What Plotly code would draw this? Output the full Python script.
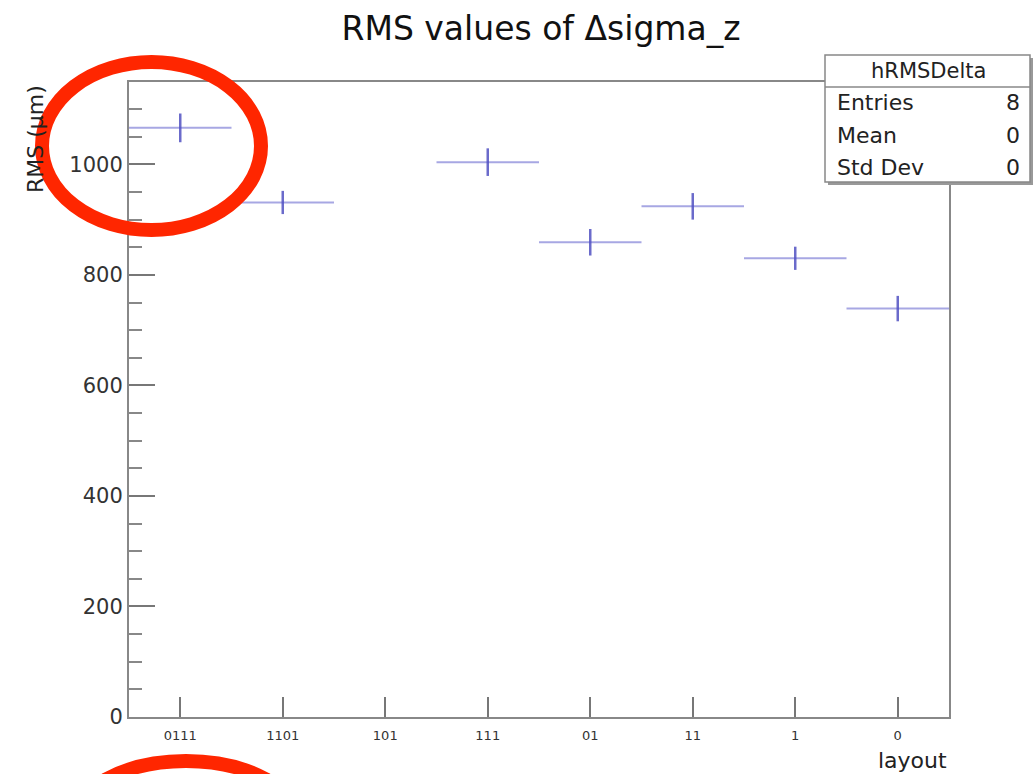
import plotly.graph_objects as go

# ---- data ----
layouts = ["0111", "1101", "101", "111", "01", "11", "1", "0"]
rms_values = [1066, 931, None, 1004, 859, 924, 830, 739]
rms_errors = [26, 21, None, 25, 24, 24, 21, 23]
half_bin = [0.5] * len(layouts)
stats_labels = ["Entries", "Mean", "Std Dev"]
stats_values = ["8", "0", "0"]

W, H = 1036, 774
L, R, T, B = 129, 949, 82, 717   # plot area in pixels


def px(x):
    return (x - L) / (R - L)


def py(y):
    return (B - y) / (B - T)


FONT = "DejaVu Sans, Liberation Sans, Arial, sans-serif"
xs = list(range(len(layouts)))

fig = go.Figure()
fig.add_trace(go.Scatter(
    x=xs, y=rms_values,
    mode="markers",
    marker=dict(size=1, color="rgba(0,0,0,0)"),
    error_x=dict(type="data", array=half_bin, width=0, thickness=2,
                 color="rgba(80,80,200,0.5)"),
    error_y=dict(type="data", array=rms_errors, width=0, thickness=2.5,
                 color="rgba(70,70,190,0.8)"),
    showlegend=False, hoverinfo="skip",
))

shapes = []
# stats box shadow + box
shapes.append(dict(type="rect", xref="paper", yref="paper",
                   x0=px(828), x1=px(1033), y0=py(185), y1=py(58),
                   line=dict(width=0), fillcolor="#999999", layer="above"))
shapes.append(dict(type="rect", xref="paper", yref="paper",
                   x0=px(825), x1=px(1030), y0=py(182), y1=py(55),
                   line=dict(width=1.5, color="#888888"), fillcolor="white",
                   layer="above"))
shapes.append(dict(type="line", xref="paper", yref="paper",
                   x0=px(825), x1=px(1030), y0=py(87), y1=py(87),
                   line=dict(width=1.5, color="#888888"), layer="above"))
# red hand-drawn circles
shapes.append(dict(type="circle", xref="paper", yref="paper",
                   x0=px(42), x1=px(261), y0=py(230), y1=py(62),
                   line=dict(width=14, color="#ff2600"), layer="above"))
shapes.append(dict(type="circle", xref="paper", yref="paper",
                   x0=px(73), x1=px(299), y0=py(887), y1=py(761),
                   line=dict(width=14, color="#ff2600"), layer="above"))

annotations = [
    dict(text="hRMSDelta", xref="paper", yref="paper", x=px(928), y=py(71),
         xanchor="center", yanchor="middle", showarrow=False,
         font=dict(family=FONT, size=21, color="#222222")),
    dict(text="RMS (μm)", xref="paper", yref="paper", x=px(35), y=py(83),
         xanchor="center", yanchor="top", textangle=-90, showarrow=False,
         font=dict(family=FONT, size=22, color="#222222")),
    dict(text="layout", xref="paper", yref="paper", x=1.0, y=py(760),
         xanchor="right", yanchor="middle", showarrow=False,
         font=dict(family=FONT, size=22, color="#222222")),
]
row_y = [102, 135, 167]
for lab, val, yy in zip(stats_labels, stats_values, row_y):
    annotations.append(dict(text=lab, xref="paper", yref="paper", x=px(835), y=py(yy),
                            xanchor="left", yanchor="middle", showarrow=False,
                            font=dict(family=FONT, size=22, color="#222222")))
    annotations.append(dict(text=val, xref="paper", yref="paper", x=px(1022), y=py(yy),
                            xanchor="right", yanchor="middle", showarrow=False,
                            font=dict(family=FONT, size=22, color="#222222")))

fig.update_layout(
    width=W, height=H,
    margin=dict(l=L, r=W - R, t=T, b=H - B, pad=0),
    paper_bgcolor="white", plot_bgcolor="white",
    title=dict(text="RMS values of Δsigma_z", x=541 / W, xanchor="center",
               y=1 - 28 / H, yanchor="middle",
               font=dict(family=FONT, size=33, color="#111111")),
    shapes=shapes, annotations=annotations,
    font=dict(family=FONT),
)
fig.update_xaxes(
    range=[-0.5, len(layouts) - 0.5],
    tickvals=xs, ticktext=layouts,
    ticks="inside", ticklen=20, tickwidth=1.5, tickcolor="#777777",
    showgrid=False, zeroline=False,
    showline=True, mirror=True, linecolor="#888888", linewidth=2,
    tickfont=dict(family=FONT, size=13, color="#333333"),
    ticklabelstandoff=5,
)
fig.update_yaxes(
    range=[0, 1149], dtick=200, tick0=0,
    ticks="inside", ticklen=26, tickwidth=1.5, tickcolor="#777777",
    minor=dict(dtick=50, ticks="inside", ticklen=13, tickwidth=1.5, tickcolor="#888888"),
    showgrid=False, zeroline=False,
    showline=True, mirror=True, linecolor="#888888", linewidth=2,
    tickfont=dict(family=FONT, size=21, color="#333333"),
)

fig.write_html("out.html",
               config={"displayModeBar": False},
               post_script="document.body.style.margin='0';document.body.style.padding='0';")
